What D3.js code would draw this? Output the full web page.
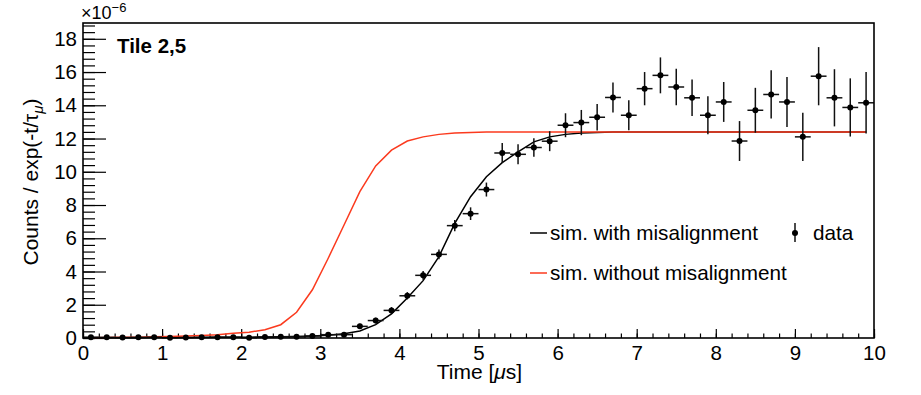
<!DOCTYPE html>
<html>
<head>
<meta charset="utf-8">
<script src="https://cdn.jsdelivr.net/npm/d3@7"></script>
<style>
  body { margin: 0; background: #fff; }
  text { font-family: "Liberation Sans", Arial, sans-serif; }
</style>
</head>
<body>
<div id="chart"></div>
<script>
// bin centres [us]
var timeBins = [0.1, 0.3, 0.5, 0.7, 0.9, 1.1, 1.3, 1.5, 1.7, 1.9,
                2.1, 2.3, 2.5, 2.7, 2.9, 3.1, 3.3, 3.5, 3.7, 3.9,
                4.1, 4.3, 4.5, 4.7, 4.9, 5.1, 5.3, 5.5, 5.7, 5.9,
                6.1, 6.3, 6.5, 6.7, 6.9, 7.1, 7.3, 7.5, 7.7, 7.9,
                8.1, 8.3, 8.5, 8.7, 8.9, 9.1, 9.3, 9.5, 9.7, 9.9];

// data, x1e-6
var dataVals = [0.05, 0.04, 0.03, 0.04, 0.05, 0.02, 0.03, 0.04, 0.05, 0.05,
                0.02, 0.06, 0.07, 0.08, 0.12, 0.20, 0.20, 0.70, 1.05, 1.66,
                2.54, 3.77, 5.03, 6.76, 7.48, 8.93, 11.13, 11.05, 11.46, 11.84,
                12.80, 12.96, 13.28, 14.47, 13.40, 15.00, 15.80, 15.10, 14.45, 13.40,
                14.20, 11.85, 13.70, 14.65, 14.20, 12.10, 15.75, 14.45, 13.87, 14.15];

var dataErrs = [0.03, 0.03, 0.03, 0.04, 0.04, 0.04, 0.05, 0.05, 0.05, 0.06,
                0.06, 0.07, 0.07, 0.08, 0.09, 0.12, 0.13, 0.15, 0.17, 0.20,
                0.22, 0.26, 0.30, 0.34, 0.38, 0.42, 0.60, 0.60, 0.55, 0.60,
                0.72, 0.76, 0.80, 0.90, 0.90, 1.00, 1.08, 1.10, 1.10, 1.15,
                1.20, 1.20, 1.35, 1.45, 1.50, 1.45, 1.75, 1.72, 1.75, 1.85];

// simulation with misalignment (black)
var simWith = [0.02, 0.02, 0.02, 0.02, 0.03, 0.03, 0.03, 0.03, 0.04, 0.04,
               0.05, 0.06, 0.07, 0.09, 0.12, 0.17, 0.25, 0.42, 0.80, 1.45,
               2.40, 3.45, 4.90, 6.90, 8.50, 9.70, 10.55, 11.20, 11.80, 12.10,
               12.25, 12.33, 12.37, 12.40, 12.40, 12.40, 12.40, 12.40, 12.40, 12.40,
               12.40, 12.40, 12.40, 12.40, 12.40, 12.40, 12.40, 12.40, 12.40, 12.40];

// simulation without misalignment (red)
var simWithout = [0.02, 0.03, 0.04, 0.05, 0.07, 0.09, 0.12, 0.15, 0.19, 0.28,
                  0.35, 0.50, 0.80, 1.55, 2.90, 4.80, 6.80, 8.80, 10.35, 11.30,
                  11.85, 12.10, 12.25, 12.33, 12.37, 12.40, 12.40, 12.40, 12.40, 12.40,
                  12.40, 12.40, 12.40, 12.40, 12.40, 12.40, 12.40, 12.40, 12.40, 12.40,
                  12.40, 12.40, 12.40, 12.40, 12.40, 12.40, 12.40, 12.40, 12.40, 12.40];

var xTicks = [0, 1, 2, 3, 4, 5, 6, 7, 8, 9, 10];
var yTicks = [0, 2, 4, 6, 8, 10, 12, 14, 16, 18];

var W = 921, H = 395;
var padL = 83, padR = 874, padT = 23, padB = 338;
var halfBin = 0.1;
var redCol = "#fb3a1e";

var svg = d3.select("#chart").append("svg")
  .attr("width", W).attr("height", H);

var x = d3.scaleLinear().domain([0, 10]).range([padL, padR]);
var y = d3.scaleLinear().domain([0, 18.95]).range([padB, padT]);

//x axis, ticks inward
svg.append("g")
  .attr("transform", "translate(0," + padB + ")")
  .call(d3.axisBottom(x).tickValues(d3.range(0, 10.01, 0.2)).tickSize(-4.5).tickFormat(""))
  .call(function(g) { g.select(".domain").remove(); });

svg.append("g")
  .attr("transform", "translate(0," + padB + ")")
  .call(d3.axisBottom(x).tickValues(xTicks).tickSize(-9).tickPadding(7).tickFormat(d3.format("d")))
  .call(function(g) {
    g.select(".domain").remove();
    g.selectAll("text").attr("font-size", 20.5).attr("font-family", "Liberation Sans").attr("fill", "#000");
  });

//y axis
svg.append("g")
  .attr("transform", "translate(" + padL + ",0)")
  .call(d3.axisLeft(y).tickValues(d3.range(0, 18.9, 0.4)).tickSize(-12).tickFormat(""))
  .call(function(g) { g.select(".domain").remove(); });

svg.append("g")
  .attr("transform", "translate(" + padL + ",0)")
  .call(d3.axisLeft(y).tickValues(yTicks).tickSize(-23).tickPadding(6).tickFormat(d3.format("d")))
  .call(function(g) {
    g.select(".domain").remove();
    g.selectAll("text").attr("font-size", 20.5).attr("font-family", "Liberation Sans").attr("fill", "#000");
  });

svg.selectAll(".tick line").attr("stroke", "#000").attr("stroke-width", 1.2);

// curves
var line = d3.line().x(function(d) { return x(d[0]); }).y(function(d) { return y(d[1]); });

svg.append("path")
  .datum(timeBins.map(function(t, i) { return [t, simWith[i]]; }))
  .attr("d", line).attr("fill", "none").attr("stroke", "#000").attr("stroke-width", 1.5);

svg.append("path")
  .datum(timeBins.map(function(t, i) { return [t, simWithout[i]]; }))
  .attr("d", line).attr("fill", "none").attr("stroke", redCol).attr("stroke-width", 1.5);

// data points with errors
var pts = svg.append("g").selectAll("g")
  .data(timeBins.map(function(t, i) { return {t: t, v: dataVals[i], e: dataErrs[i]}; }))
  .enter().append("g");

pts.append("line")
  .attr("x1", function(d) { return x(d.t - halfBin); })
  .attr("x2", function(d) { return x(d.t + halfBin); })
  .attr("y1", function(d) { return y(d.v); })
  .attr("y2", function(d) { return y(d.v); })
  .attr("stroke", "#111").attr("stroke-width", 1.5);

pts.append("line")
  .attr("x1", function(d) { return x(d.t); })
  .attr("x2", function(d) { return x(d.t); })
  .attr("y1", function(d) { return y(Math.max(0, d.v - d.e)); })
  .attr("y2", function(d) { return y(d.v + d.e); })
  .attr("stroke", "#111").attr("stroke-width", 1.5);

pts.append("circle")
  .attr("cx", function(d) { return x(d.t); })
  .attr("cy", function(d) { return y(d.v); })
  .attr("r", 3).attr("fill", "#000");

// frame
svg.append("rect")
  .attr("x", padL).attr("y", padT)
  .attr("width", padR - padL).attr("height", padB - padT)
  .attr("fill", "none").attr("stroke", "#000").attr("stroke-width", 1.6);

// exponent
var ex = svg.append("text").attr("x", 81).attr("y", 19).attr("font-size", 18);
ex.append("tspan").text("\u00d710");
ex.append("tspan").attr("dy", -7).attr("font-size", 13).text("\u22126");

svg.append("text").attr("x", 117).attr("y", 53)
  .attr("font-size", 20.5).attr("font-weight", "bold").text("Tile 2,5");

// axis titles
svg.append("text").attr("x", (padL + padR) / 2 + 1).attr("y", 379)
  .attr("text-anchor", "middle").attr("font-size", 21)
  .html("Time [<tspan font-style='italic'>\u03bc</tspan>s]");

var yt = svg.append("text")
  .attr("transform", "translate(38,182) rotate(-90)")
  .attr("text-anchor", "middle").attr("font-size", 21);
yt.append("tspan").text("Counts / exp(-t/\u03c4");
yt.append("tspan").attr("dy", 5).attr("font-size", 15).attr("font-style", "italic").text("\u03bc");
yt.append("tspan").attr("dy", -5).text(")");

// legend
var legend = svg.append("g");
legend.append("line").attr("x1", 530).attr("x2", 547).attr("y1", 233).attr("y2", 233)
  .attr("stroke", "#000").attr("stroke-width", 1.5);
legend.append("text").attr("x", 550).attr("y", 240).attr("font-size", 20.7).text("sim. with misalignment");
legend.append("line").attr("x1", 530).attr("x2", 547).attr("y1", 273).attr("y2", 273)
  .attr("stroke", redCol).attr("stroke-width", 1.5);
legend.append("text").attr("x", 550).attr("y", 280).attr("font-size", 20.7).text("sim. without misalignment");
legend.append("line").attr("x1", 795).attr("x2", 795).attr("y1", 223).attr("y2", 242)
  .attr("stroke", "#111").attr("stroke-width", 1.5);
legend.append("circle").attr("cx", 795).attr("cy", 233).attr("r", 3).attr("fill", "#000");
legend.append("text").attr("x", 813).attr("y", 240).attr("font-size", 20.7).text("data");
</script>
</body>
</html>
